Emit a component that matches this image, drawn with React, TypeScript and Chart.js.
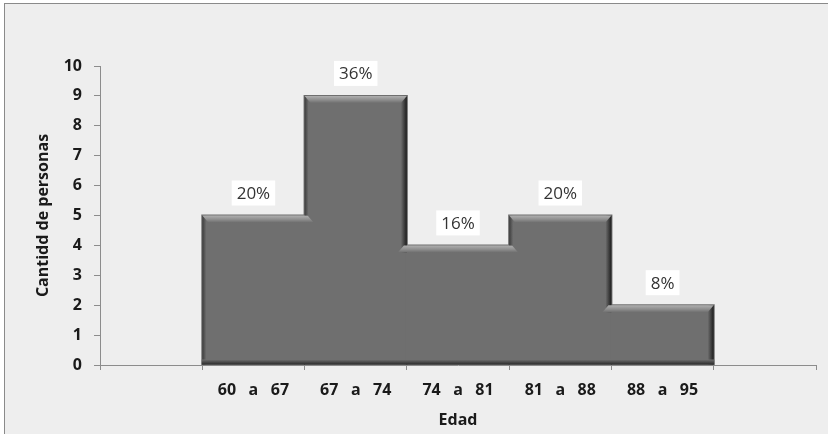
import React, { useEffect, useRef } from "react";
import { Chart, registerables } from "chart.js";

Chart.register(...registerables);

const categories = ["60   a   67", "67   a   74", "74   a   81", "81   a   88", "88   a   95"];
const counts = [5, 9, 4, 5, 2];
const yTicks = [0, 1, 2, 3, 4, 5, 6, 7, 8, 9, 10];
const yTitle = "Cantidd de personas";
const xTitle = "Edad";

const FILL = "#6f6f6f";
const AXIS = "#8c8c8c";
const TEXT = "#1a1a1a";
const FAMILY = "'Open Sans'";

const total = counts.reduce((a, b) => a + b, 0);
const percentLabels = counts.map((c) => Math.round((c / total) * 100) + "%");

const bevelPlugin = {
  id: "bevel",
  afterDatasetsDraw(chart: any) {
    const ctx = chart.ctx;
    const meta = chart.getDatasetMeta(0);
    const els = meta.data.filter((e: any, i: number) => chart.data.datasets[0].data[i] != null);
    const tops = els.map((e: any) => e.y);
    ctx.save();
    els.forEach((el: any, i: number) => {
      const L = el.x - el.width / 2;
      const R = el.x + el.width / 2;
      const T = el.y;
      const B = el.base;
      const prevTop = i > 0 ? tops[i - 1] : B;
      const nextTop = i < els.length - 1 ? tops[i + 1] : B;
      const hb = 7;
      if (prevTop > T + 1) {
        const g = ctx.createLinearGradient(L, 0, L + 4, 0);
        g.addColorStop(0, "#3c3c3c");
        g.addColorStop(1, FILL);
        ctx.fillStyle = g;
        ctx.fillRect(L, T, 4, Math.min(prevTop, B) - T);
      }
      if (nextTop > T + 1) {
        const g = ctx.createLinearGradient(R - 6, 0, R, 0);
        g.addColorStop(0, FILL);
        g.addColorStop(1, "#1c1c1c");
        ctx.fillStyle = g;
        const end = nextTop >= B ? B : nextTop + hb;
        ctx.fillRect(R - 6, T, 6, end - T);
      }
      const g2 = ctx.createLinearGradient(0, T, 0, T + hb);
      g2.addColorStop(0, "#b0b0b0");
      g2.addColorStop(0.6, "#8c8c8c");
      g2.addColorStop(1, "#707070");
      ctx.fillStyle = g2;
      ctx.beginPath();
      if (prevTop < T - 1) {
        ctx.moveTo(L - 3, T);
        ctx.lineTo(L - 9, T + hb);
      } else {
        ctx.moveTo(L, T);
        ctx.lineTo(L + 6, T + hb);
      }
      if (nextTop < T - 1) {
        ctx.lineTo(R + 9, T + hb);
        ctx.lineTo(R + 3, T);
      } else {
        ctx.lineTo(R - 6, T + hb);
        ctx.lineTo(R, T);
      }
      ctx.closePath();
      ctx.fill();
      const g3 = ctx.createLinearGradient(0, B - 5, 0, B);
      g3.addColorStop(0, FILL);
      g3.addColorStop(1, "#2a2a2a");
      ctx.fillStyle = g3;
      ctx.fillRect(L - 0.5, B - 5, R - L + 1, 5);
    });
    ctx.font = "17px " + FAMILY;
    ctx.textAlign = "center";
    ctx.textBaseline = "middle";
    els.forEach((el: any, i: number) => {
      const txt = percentLabels[i];
      const w = ctx.measureText(txt).width + 10;
      const h = 25;
      const by = el.y - 10 - h;
      ctx.fillStyle = "#ffffff";
      ctx.fillRect(el.x - w / 2, by, w, h);
      ctx.fillStyle = "#333333";
      ctx.fillText(txt, el.x, by + h / 2 + 1);
    });
    ctx.restore();
  },
};

export default function App() {
  const ref = useRef<HTMLCanvasElement | null>(null);
  useEffect(() => {
    document.body.style.margin = "0";
    const labels = ["", ...categories, ""];
    const data = [null, ...counts, null];
    const chart = new Chart(ref.current as HTMLCanvasElement, {
      type: "bar",
      data: {
        labels,
        datasets: [
          {
            data,
            backgroundColor: FILL,
            borderWidth: 0,
            barPercentage: 1,
            categoryPercentage: 1,
            inflateAmount: 1,
          },
        ],
      },
      plugins: [bevelPlugin],
      options: {
        responsive: false,
        animation: false,
        layout: { padding: { left: 0, right: 12, top: 66, bottom: 0 } },
        plugins: { legend: { display: false }, tooltip: { enabled: false } },
        scales: {
          x: {
            offset: true,
            grid: { display: true, offset: true, drawOnChartArea: false, drawTicks: true, tickLength: 5, color: AXIS },
            border: { display: true, color: AXIS },
            ticks: { color: TEXT, font: { family: FAMILY, size: 16, weight: "bold" }, padding: 11, maxRotation: 0, autoSkip: false },
            title: { display: true, text: xTitle, color: TEXT, font: { family: FAMILY, size: 16, weight: "bold" }, padding: { top: 0, bottom: 4 } },
            afterFit: (s: any) => { s.height = 69; },
          },
          y: {
            min: 0,
            max: 10,
            afterBuildTicks: (s: any) => { s.ticks = yTicks.map((v) => ({ value: v })); },
            grid: { display: true, drawOnChartArea: false, drawTicks: true, tickLength: 6, color: AXIS },
            border: { display: true, color: AXIS },
            ticks: { color: TEXT, font: { family: FAMILY, size: 16, weight: "bold" }, padding: 12 },
            title: { display: true, text: yTitle, color: TEXT, font: { family: FAMILY, size: 16, weight: "bold" }, padding: { top: 34, bottom: 0 } },
            afterFit: (s: any) => { s.width = 100; },
          },
        },
      },
    });
    return () => chart.destroy();
  }, []);
  return (
    <div style={{ position: "relative", width: 828, height: 434, overflow: "hidden", background: "#ffffff" }}>
      <div style={{ position: "absolute", left: 4, top: 3, width: 900, height: 500, border: "1px solid #8a8a8a", background: "#eeeeee" }} />
      <canvas ref={ref} width={828} height={434} style={{ position: "absolute", left: 0, top: 0 }} />
    </div>
  );
}
